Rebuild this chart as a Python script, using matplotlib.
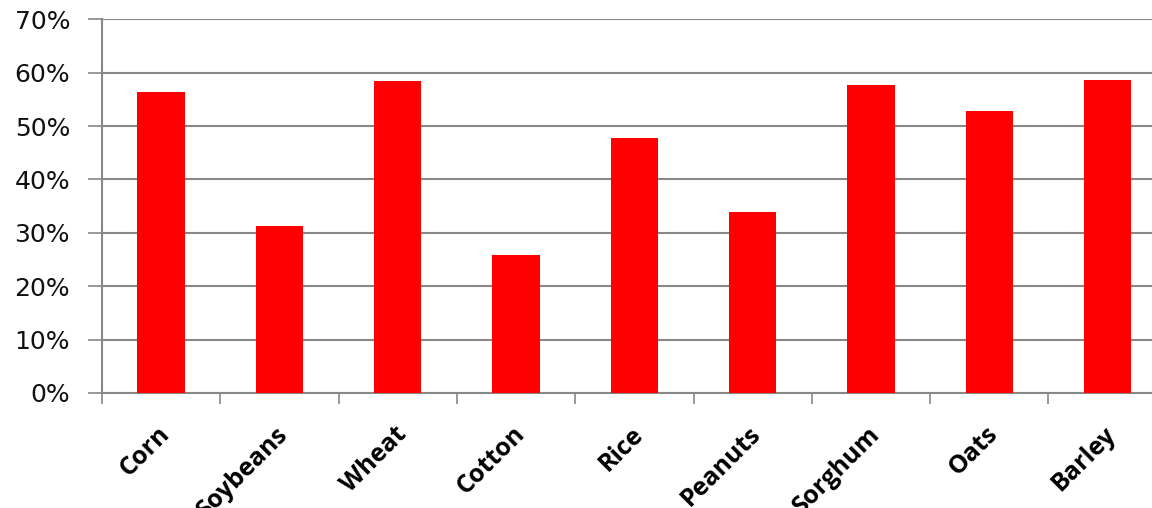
import matplotlib
matplotlib.use("Agg")
import matplotlib.pyplot as plt
from matplotlib.ticker import FixedLocator, NullFormatter, MultipleLocator, FuncFormatter
import matplotlib.transforms as mtransforms

categories = ["Corn", "Soybeans", "Wheat", "Cotton", "Rice", "Peanuts", "Sorghum", "Oats", "Barley"]
values = [56.3, 31.3, 58.5, 25.8, 47.7, 33.9, 57.7, 52.8, 58.6]

W, H = 1152, 508
fig = plt.figure(figsize=(W / 100, H / 100), dpi=100)
left_px, right_px, top_px, bottom_px = 102, 1152, 19.3, 393
ax = fig.add_axes([left_px / W, (H - bottom_px) / H, (right_px - left_px) / W, (bottom_px - top_px) / H])

x = list(range(len(categories)))
ax.bar(x, values, width=0.4, color="#ff0000", zorder=3)

spacing = 118.3
ax.set_xlim(-0.5, -0.5 + (right_px - left_px) / spacing)
ax.set_ylim(0, 70)

ax.yaxis.set_major_locator(MultipleLocator(10))
ax.yaxis.set_major_formatter(FuncFormatter(lambda v, p: f"{int(v)}%"))
ax.grid(axis="y", color="#888888", linewidth=1.5, zorder=0)
ax.tick_params(axis="y", direction="out", length=10, width=1.2, color="#888888",
               labelsize=18, labelcolor="#111111", pad=13)

ax.xaxis.set_major_locator(FixedLocator([i - 0.5 for i in range(len(categories) + 1)]))
ax.xaxis.set_major_formatter(NullFormatter())
ax.xaxis.set_minor_locator(FixedLocator(x))
ax.set_xticklabels(categories, minor=True)
ax.tick_params(axis="x", which="major", direction="out", length=8, width=1.2, color="#888888")
ax.tick_params(axis="x", which="minor", length=0, pad=27)
shift = mtransforms.ScaledTranslation(5 / 100, 0, fig.dpi_scale_trans)
for lab in ax.get_xticklabels(minor=True):
    lab.set_rotation(45)
    lab.set_ha("right")
    lab.set_va("center")
    lab.set_rotation_mode("anchor")
    lab.set_fontsize(18)
    lab.set_fontweight("bold")
    lab.set_family("Open Sans")
    lab.set_transform(lab.get_transform() + shift)

for s in ["top", "right"]:
    ax.spines[s].set_visible(False)
for s in ["left", "bottom"]:
    ax.spines[s].set_color("#888888")
    ax.spines[s].set_linewidth(1.5)

fig.savefig("out.png", dpi=100)
